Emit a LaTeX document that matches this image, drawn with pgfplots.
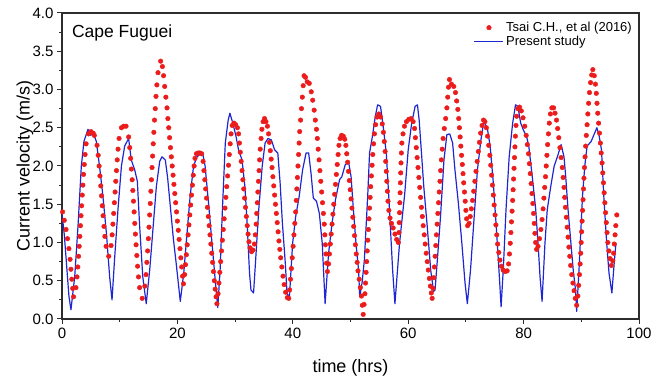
\documentclass[border=0pt]{standalone}
\usepackage{fontspec}
\setmainfont{Liberation Sans}
\usepackage{pgfplots}
\pgfplotsset{compat=1.18}
\definecolor{dotred}{RGB}{236,28,28}
\definecolor{lineblue}{RGB}{30,38,210}
\definecolor{axgray}{RGB}{45,45,45}
\pgfplotsset{
  lineleg/.style={legend image code/.code={\draw[##1] (0pt,0pt) -- (29pt,0pt);}},
  dotleg/.style={legend image code/.code={\draw[mark repeat=2, mark phase=2, ##1] plot coordinates {(0pt,0pt) (14.5pt,0pt) (29pt,0pt)};}},
}
\begin{document}
\begin{tikzpicture}
\begin{axis}[
  name=ax,
  scale only axis,
  width=577pt, height=306pt,
  xmin=0, xmax=100, ymin=0, ymax=4,
  xtick={0,20,40,60,80,100},
  ytick={0,0.5,1,1.5,2,2.5,3,3.5,4},
  minor x tick num=1, minor y tick num=1,
  tick pos=left,
  tick align=outside,
  major tick length=5pt, minor tick length=3pt,
  axis line style={axgray, line width=1.1pt},
  every tick/.style={axgray, line width=1pt},
  /pgf/number format/assume math mode=true,
  yticklabel style={/pgf/number format/.cd, fixed, fixed zerofill, precision=1},
  tick label style={font=\fontsize{15}{18}\selectfont, text=black},
  label style={font=\fontsize{18}{21}\selectfont},
  xlabel={time (hrs)},
  ylabel={Current velocity (m/s)},
  xlabel style={at={(axis description cs:0.5,-0.16)}, anchor=center},
  ylabel style={at={(axis description cs:-0.064,0.5)}, anchor=center},
  legend style={draw=none, fill=none, at={(1,1)}, anchor=north east, xshift=-2pt, yshift=-5pt,
    font=\fontsize{13}{15}\selectfont, row sep=-1pt},
  legend cell align=left,
]
\addplot[only marks, mark=*, mark size=2.3pt, color=dotred, mark options={draw=dotred, fill=dotred}, dotleg]
table {
0.1 1.40
0.4 1.29
0.7 1.17
0.95 1.05
1.2 0.92
1.4 0.78
1.55 0.65
1.7 0.52
1.85 0.40
2.0 0.29
2.42 0.41
2.60 0.55
2.74 0.68
2.87 0.82
2.98 0.95
3.09 1.08
3.20 1.22
3.30 1.35
3.40 1.48
3.51 1.62
3.62 1.75
3.73 1.89
3.86 2.02
4.00 2.15
4.18 2.29
4.60 2.42
5.00 2.45
5.40 2.43
5.60 2.40
6.07 2.27
6.27 2.14
6.43 2.00
6.58 1.87
6.72 1.74
6.85 1.61
6.98 1.48
7.12 1.35
7.27 1.21
7.43 1.08
7.64 0.95
8.10 0.82
8.51 0.96
8.69 1.10
8.83 1.24
8.96 1.38
9.08 1.52
9.20 1.66
9.32 1.80
9.44 1.94
9.57 2.08
9.71 2.22
9.89 2.36
10.30 2.50
10.70 2.52
11.10 2.52
11.55 2.38
11.74 2.24
11.90 2.10
12.03 1.96
12.16 1.82
12.28 1.68
12.39 1.54
12.50 1.40
12.61 1.25
12.72 1.11
12.84 0.97
12.97 0.83
13.10 0.69
13.26 0.55
13.45 0.41
13.90 0.27
14.36 0.43
14.56 0.58
14.71 0.74
14.84 0.89
14.97 1.05
15.08 1.20
15.19 1.36
15.30 1.51
15.40 1.67
15.50 1.82
15.60 1.98
15.70 2.13
15.81 2.29
15.92 2.44
16.03 2.60
16.16 2.75
16.29 2.91
16.44 3.06
16.64 3.22
17.10 3.37
17.4 3.30
17.6 3.18
17.8 3.04
18.0 2.90
18.2 2.76
18.35 2.62
18.5 2.50
18.65 2.37
18.8 2.24
18.95 2.12
19.1 2.00
19.25 1.88
19.4 1.76
19.55 1.64
19.7 1.52
19.85 1.40
20.0 1.28
20.15 1.16
20.3 1.04
20.45 0.92
20.6 0.80
20.75 0.68
20.9 0.56
21.05 0.46
21.25 0.58
21.4 0.71
21.55 0.84
21.7 0.97
21.85 1.10
22.0 1.23
22.15 1.36
22.3 1.49
22.45 1.62
22.6 1.75
22.75 1.88
22.9 2.00
23.05 2.10
23.3 2.16
23.6 2.17
23.9 2.17
24.2 2.16
24.45 2.06
24.6 1.94
24.75 1.82
24.9 1.70
25.05 1.58
25.2 1.46
25.35 1.34
25.5 1.22
25.65 1.10
25.8 0.98
25.95 0.86
26.1 0.74
26.25 0.62
26.4 0.50
26.55 0.39
26.7 0.29
26.85 0.20
27.05 0.33
27.2 0.47
27.35 0.61
27.5 0.75
27.65 0.89
27.8 1.03
27.95 1.17
28.1 1.31
28.25 1.45
28.4 1.59
28.55 1.73
28.7 1.87
28.85 2.01
29.0 2.15
29.15 2.29
29.3 2.42
29.5 2.53
29.8 2.56
30.1 2.54
30.4 2.50
30.6 2.42
30.75 2.30
30.9 2.18
31.05 2.06
31.2 1.94
31.35 1.82
31.5 1.70
31.65 1.58
31.8 1.46
31.95 1.34
32.1 1.22
32.25 1.11
32.4 1.01
32.6 0.93
32.85 0.88
33.1 0.90
33.35 0.98
33.5 1.10
33.65 1.24
33.75 1.38
33.85 1.52
33.95 1.66
34.05 1.80
34.15 1.94
34.25 2.08
34.35 2.22
34.5 2.36
34.65 2.48
34.85 2.58
35.1 2.62
35.35 2.58
35.6 2.52
35.8 2.42
35.95 2.31
36.1 2.20
36.25 2.09
36.4 1.98
36.55 1.86
36.7 1.74
36.85 1.62
37.0 1.50
37.15 1.38
37.3 1.26
37.45 1.14
37.6 1.02
37.75 0.91
37.9 0.80
38.1 0.68
38.3 0.56
38.5 0.45
38.75 0.35
39.05 0.28
39.3 0.27
39.45 0.38
39.6 0.52
39.75 0.66
39.9 0.80
40.05 0.95
40.2 1.10
40.35 1.25
40.5 1.40
40.6 1.55
40.7 1.70
40.8 1.85
40.9 2.00
41.0 2.15
41.1 2.30
41.2 2.45
41.35 2.60
41.5 2.75
41.65 2.90
41.8 3.05
41.95 3.18
42.2 3.16
42.5 3.10
42.85 3.08
43.2 2.97
43.45 2.86
43.7 2.73
43.9 2.60
44.1 2.48
44.25 2.36
44.4 2.22
44.55 2.08
44.7 1.94
44.85 1.80
45.0 1.66
45.15 1.52
45.3 1.38
45.45 1.24
45.55 1.10
45.65 0.97
45.75 0.85
45.85 0.73
46.0 0.62
46.2 0.72
46.35 0.85
46.5 0.98
46.65 1.11
46.8 1.24
46.95 1.37
47.1 1.50
47.25 1.63
47.4 1.76
47.55 1.89
47.7 2.02
47.85 2.15
48.0 2.27
48.2 2.36
48.45 2.40
48.75 2.39
49.0 2.35
49.2 2.27
49.35 2.16
49.5 2.05
49.65 1.93
49.8 1.81
49.95 1.69
50.1 1.57
50.25 1.45
50.4 1.33
50.55 1.21
50.7 1.09
50.85 0.97
51.0 0.85
51.15 0.74
51.3 0.63
51.5 0.52
51.7 0.41
51.9 0.30
52.05 0.18
52.2 0.06
52.35 0.19
52.5 0.33
52.6 0.47
52.7 0.61
52.8 0.75
52.9 0.89
53.0 1.03
53.1 1.17
53.2 1.31
53.3 1.45
53.4 1.59
53.5 1.73
53.62 1.87
53.74 2.01
53.86 2.15
54.0 2.29
54.15 2.42
54.35 2.54
54.6 2.64
54.9 2.68
55.2 2.64
55.5 2.55
55.7 2.44
55.85 2.32
56.0 2.19
56.1 2.06
56.2 1.93
56.3 1.80
56.4 1.67
56.5 1.54
56.65 1.42
56.85 1.32
57.1 1.25
57.4 1.19
57.7 1.11
58.0 1.04
58.3 1.00
58.4 1.13
58.45 1.26
58.5 1.39
58.55 1.52
58.6 1.65
58.65 1.78
58.7 1.91
58.75 2.04
58.82 2.17
58.9 2.30
59.1 2.42
59.35 2.52
59.7 2.58
60.1 2.61
60.5 2.62
60.85 2.58
61.1 2.49
61.25 2.37
61.4 2.24
61.55 2.11
61.7 1.98
61.85 1.85
62.0 1.72
62.15 1.59
62.3 1.46
62.45 1.34
62.6 1.22
62.78 1.10
62.95 0.98
63.12 0.86
63.3 0.75
63.48 0.64
63.66 0.53
63.84 0.43
64.0 0.34
64.15 0.27
64.3 0.40
64.42 0.54
64.54 0.68
64.66 0.82
64.78 0.96
64.9 1.10
65.02 1.24
65.14 1.38
65.26 1.52
65.38 1.66
65.5 1.80
65.62 1.94
65.75 2.08
65.9 2.22
66.05 2.36
66.25 2.49
66.5 2.62
66.7 2.76
66.85 2.90
66.98 3.03
67.15 3.13
67.5 3.07
67.9 3.04
68.2 2.96
68.4 2.85
68.6 2.74
68.75 2.62
68.88 2.50
69.0 2.38
69.12 2.26
69.25 2.14
69.38 2.02
69.5 1.90
69.62 1.78
69.75 1.66
69.88 1.54
70.0 1.42
70.12 1.31
70.3 1.22
70.55 1.25
70.75 1.34
70.95 1.44
71.15 1.55
71.35 1.67
71.55 1.80
71.75 1.93
71.95 2.06
72.15 2.19
72.35 2.31
72.55 2.43
72.8 2.53
73.05 2.60
73.3 2.58
73.55 2.50
73.75 2.39
73.95 2.27
74.15 2.14
74.3 2.01
74.45 1.88
74.6 1.75
74.75 1.62
74.9 1.49
75.05 1.36
75.2 1.23
75.35 1.10
75.5 0.98
75.7 0.87
75.9 0.77
76.15 0.69
76.45 0.64
76.8 0.62
77.15 0.63
77.4 0.72
77.55 0.85
77.68 0.99
77.8 1.13
77.9 1.27
78.0 1.41
78.1 1.55
78.18 1.69
78.26 1.83
78.34 1.97
78.42 2.11
78.5 2.25
78.58 2.39
78.68 2.53
78.8 2.65
79.0 2.75
79.3 2.77
79.6 2.72
79.9 2.63
80.2 2.52
80.45 2.40
80.65 2.28
80.85 2.16
81.0 2.03
81.15 1.90
81.3 1.77
81.45 1.64
81.6 1.51
81.72 1.38
81.84 1.25
81.96 1.12
82.08 1.00
82.25 0.91
82.5 0.95
82.75 1.05
83.0 1.17
83.2 1.30
83.38 1.44
83.52 1.58
83.66 1.72
83.8 1.86
83.92 2.00
84.04 2.14
84.16 2.28
84.3 2.42
84.45 2.56
84.65 2.68
84.9 2.76
85.2 2.76
85.45 2.69
85.7 2.60
85.9 2.49
86.1 2.37
86.3 2.24
86.5 2.11
86.7 1.98
86.85 1.85
87.0 1.72
87.12 1.59
87.25 1.46
87.4 1.33
87.55 1.20
87.7 1.07
87.85 0.94
88.0 0.82
88.15 0.70
88.35 0.58
88.55 0.47
88.75 0.37
88.95 0.27
89.2 0.18
89.4 0.30
89.55 0.44
89.68 0.58
89.8 0.72
89.9 0.86
89.98 1.00
90.06 1.14
90.14 1.28
90.22 1.42
90.3 1.56
90.38 1.70
90.46 1.84
90.55 1.98
90.65 2.12
90.75 2.26
90.87 2.40
91.0 2.54
91.13 2.68
91.27 2.82
91.42 2.96
91.6 3.09
91.8 3.19
92.0 3.26
92.25 3.18
92.45 3.07
92.6 2.95
92.72 2.82
92.85 2.69
93.0 2.56
93.15 2.43
93.3 2.30
93.45 2.17
93.6 2.04
93.72 1.91
93.84 1.78
93.96 1.65
94.08 1.52
94.2 1.39
94.33 1.26
94.46 1.13
94.6 1.00
94.78 0.89
94.98 0.79
95.2 0.70
95.45 0.76
95.6 0.86
95.72 0.98
95.85 1.10
95.98 1.22
96.15 1.36
};
\addlegendentry{Tsai C.H., et al (2016)}
\addplot[color=lineblue, line width=1.2pt, line join=round, mark=none, lineleg]
table {
0 1.38
0.4 1.10
0.8 0.70
1.2 0.30
1.55 0.12
2.2 0.55
2.77 1.21
3.35 2.00
3.8 2.32
4.5 2.48
4.97 2.40
5.4 2.44
5.95 2.32
6.5 2.00
7.1 1.60
7.7 1.12
8.26 0.55
8.67 0.25
9.1 0.77
9.7 1.43
10.3 2.00
10.86 2.26
11.55 2.36
12.0 2.08
12.6 1.95
13.06 1.80
13.46 1.21
14.0 0.55
14.6 0.20
15.2 0.64
15.8 1.21
16.35 1.73
16.93 2.06
17.33 2.12
17.9 2.08
18.3 1.85
18.8 1.45
19.3 1.05
19.8 0.72
20.5 0.23
21.1 0.60
21.7 1.15
22.2 1.60
22.8 2.00
23.4 2.12
24.0 2.16
24.4 2.16
24.8 2.00
25.4 1.51
26.0 0.99
26.6 0.47
27.0 0.15
27.4 0.64
27.8 1.43
28.3 2.30
28.8 2.60
29.1 2.69
29.6 2.56
30.15 2.39
30.6 2.21
31.2 2.08
31.7 1.73
32.05 1.30
32.5 0.60
32.75 0.38
33.2 0.34
33.6 0.82
34.1 1.43
34.7 2.00
35.2 2.30
35.7 2.36
36.3 2.34
36.85 2.21
37.4 2.17
37.8 1.78
38.2 1.25
38.7 0.73
39.0 0.34
39.4 0.27
39.97 0.99
40.5 1.34
41.1 1.60
41.7 1.95
42.3 2.17
42.75 2.17
43.15 1.91
43.56 1.58
44.1 1.54
44.6 1.38
45.1 0.99
45.6 0.20
46.2 0.86
46.8 1.25
47.4 1.56
48.1 1.82
48.5 1.86
49.1 2.02
49.7 2.04
50.1 1.86
50.5 1.43
50.95 0.99
51.4 0.64
51.6 0.29
52.0 0.47
52.4 0.77
53.0 1.64
53.3 2.17
53.8 2.39
54.3 2.65
54.7 2.80
55.2 2.78
55.6 2.56
56.2 2.17
56.7 1.51
57.3 0.64
57.7 0.20
58.5 0.99
59.4 1.64
60.0 2.21
60.6 2.56
61.2 2.78
61.6 2.80
61.9 2.60
62.3 2.17
62.7 1.73
63.3 1.21
63.9 0.64
64.4 0.36
64.65 0.38
65.05 0.77
65.6 1.34
66.2 2.08
66.7 2.41
67.2 2.42
67.7 2.30
68.1 1.95
68.7 1.51
69.3 0.99
69.85 0.47
70.25 0.20
70.8 0.64
71.4 1.30
72.0 1.95
72.6 2.34
73.1 2.58
73.7 2.50
74.2 2.26
74.75 1.78
75.3 1.16
75.8 0.55
76.1 0.16
76.5 0.68
76.95 1.43
77.5 2.12
78.1 2.56
78.6 2.80
79.0 2.78
79.5 2.56
79.96 2.47
80.5 2.39
80.9 2.26
81.5 1.86
82.1 1.43
82.5 0.99
82.85 0.55
83.2 0.23
83.7 0.99
84.1 1.43
84.7 1.73
85.3 2.00
85.85 2.12
86.5 2.28
87.0 2.12
87.3 1.86
87.7 1.43
88.2 0.99
88.6 0.64
89.0 0.38
89.2 0.10
89.6 0.64
89.9 1.12
90.2 1.60
90.6 2.00
91.0 2.26
91.7 2.32
92.2 2.41
92.7 2.50
93.1 2.39
93.5 2.21
93.9 1.60
94.4 0.99
94.8 0.60
95.3 0.34
95.7 0.73
96.0 0.99
};
\addlegendentry{Present study}
\node[anchor=west, inner sep=0pt, font=\fontsize{17.5}{20}\selectfont] at (rel axis cs:0.017,0.935) {Cape Fuguei};
\end{axis}
\pgfresetboundingbox
\path[use as bounding box] ([shift={(-62pt,-60pt)}]ax.south west) rectangle ([shift={(13pt,13pt)}]ax.north east);
\end{tikzpicture}
\end{document}
